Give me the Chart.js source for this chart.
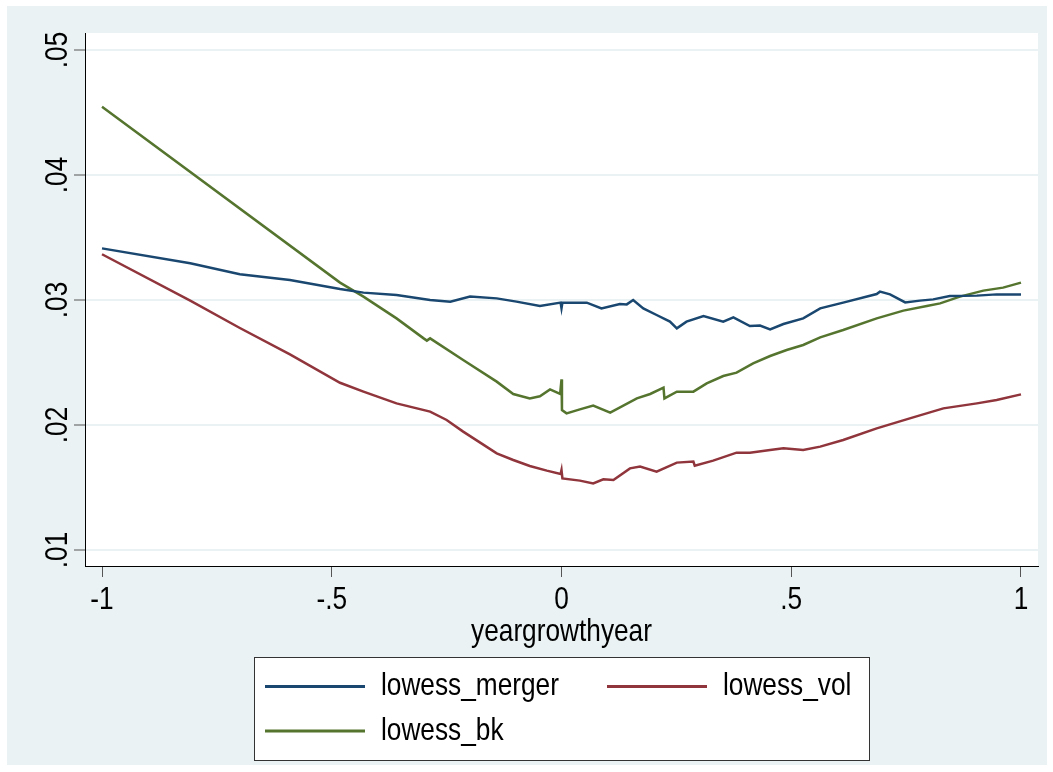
<!DOCTYPE html>
<html>
<head>
<meta charset="utf-8">
<script src="https://cdn.jsdelivr.net/npm/chart.js@4.4.1/dist/chart.umd.min.js"></script>
<style>
  html, body { margin: 0; padding: 0; background: #fff; }
  #wrap { position: absolute; left: 7px; top: 6px; width: 1040px; height: 759px; background: #eaf2f3; }
</style>
</head>
<body>
<div id="wrap"><canvas id="graph-box"></canvas></div>
<script>
// values
const xTicks = [-1, -0.5, 0, 0.5, 1];
const xTickLabels = ['-1', '-.5', '0', '.5', '1'];
const yTicks = [0.01, 0.02, 0.03, 0.04, 0.05];
const yTickLabels = ['.01', '.02', '.03', '.04', '.05'];
const xTitle = 'yeargrowthyear';

const seriesNames = ['lowess_merger', 'lowess_vol', 'lowess_bk'];

const mergerX = [-1, -0.808, -0.70, -0.591, -0.482, -0.431, -0.359, -0.286, -0.242, -0.199, -0.141, -0.098, -0.047, -0.002, 0.0, 0.002, 0.040, 0.055, 0.087, 0.127, 0.142, 0.156, 0.178, 0.207, 0.236, 0.251, 0.272, 0.309, 0.352, 0.374, 0.410, 0.432, 0.454, 0.483, 0.526, 0.563, 0.613, 0.686, 0.693, 0.715, 0.748, 0.780, 0.809, 0.845, 0.904, 0.947, 1.0];
const mergerY = [0.03413, 0.03294, 0.03206, 0.0316, 0.03088, 0.03059, 0.0304, 0.0300, 0.02987, 0.03027, 0.03013, 0.02987, 0.02952, 0.02979, 0.02934, 0.02979, 0.02979, 0.02979, 0.02933, 0.02968, 0.02965, 0.0300, 0.02933, 0.0288, 0.02827, 0.02773, 0.02827, 0.02872, 0.02827, 0.02861, 0.02792, 0.02795, 0.02765, 0.02808, 0.02853, 0.02933, 0.02979, 0.03048, 0.03067, 0.03045, 0.02981, 0.02995, 0.03005, 0.03032, 0.03035, 0.03045, 0.03045];

const volX = [-1, -0.808, -0.70, -0.591, -0.482, -0.431, -0.359, -0.286, -0.250, -0.214, -0.177, -0.141, -0.105, -0.069, -0.032, -0.002, 0.0, 0.002, 0.040, 0.069, 0.091, 0.113, 0.149, 0.171, 0.207, 0.251, 0.287, 0.290, 0.330, 0.381, 0.410, 0.454, 0.483, 0.526, 0.563, 0.613, 0.686, 0.758, 0.831, 0.904, 0.947, 1.0];
const volY = [0.03366, 0.02995, 0.02776, 0.02565, 0.02338, 0.02267, 0.02173, 0.02107, 0.0204, 0.01947, 0.01859, 0.01773, 0.0172, 0.01672, 0.01635, 0.01608, 0.0164, 0.01573, 0.01555, 0.01533, 0.01565, 0.0156, 0.01653, 0.01667, 0.01627, 0.01699, 0.01707, 0.01675, 0.01715, 0.01779, 0.01779, 0.018, 0.01813, 0.018, 0.01827, 0.0188, 0.01973, 0.02053, 0.02133, 0.02173, 0.022, 0.02245];

const bkX = [-1, -0.482, -0.431, -0.359, -0.300, -0.293, -0.286, -0.214, -0.141, -0.105, -0.069, -0.047, -0.025, -0.003, 0.0, 0.001, 0.011, 0.040, 0.069, 0.106, 0.164, 0.193, 0.222, 0.224, 0.251, 0.287, 0.316, 0.352, 0.381, 0.417, 0.454, 0.490, 0.526, 0.563, 0.613, 0.686, 0.744, 0.795, 0.824, 0.867, 0.918, 0.961, 1.0];
const bkY = [0.04546, 0.03139, 0.03027, 0.02853, 0.02693, 0.02675, 0.02693, 0.0252, 0.02347, 0.02248, 0.02213, 0.0223, 0.02285, 0.02248, 0.02365, 0.0212, 0.02093, 0.02125, 0.02155, 0.02099, 0.02213, 0.02248, 0.02299, 0.02213, 0.02267, 0.02267, 0.02333, 0.02392, 0.02419, 0.02493, 0.02552, 0.026, 0.0264, 0.02701, 0.0276, 0.02853, 0.02915, 0.02952, 0.02973, 0.03027, 0.03075, 0.03099, 0.03139];

const FONT = "'Liberation Sans', Arial, sans-serif";
const NARROW = 0.82; // squeeze the text so it looks like arial narrow
Chart.defaults.font.family = FONT;
Chart.defaults.color = '#000';

const toPoints = (xs, ys) => xs.map((x, i) => ({ x: x, y: ys[i] }));

function narrowText(ctx, text, x, y, rot) {
    ctx.save();
    ctx.translate(x, y);
    if (rot) ctx.rotate(rot);
    ctx.scale(NARROW, 1);
    ctx.fillText(text, 0, 0);
    ctx.restore();
}

// white plot region
const plotBg = {
    id: 'plotBg',
    beforeDraw(chart) {
        const a = chart.chartArea;
        chart.ctx.save();
        chart.ctx.fillStyle = '#fff';
        chart.ctx.fillRect(a.left, a.top, a.right - a.left, a.bottom - a.top);
        chart.ctx.restore();
    }
};

// tick labels and axis title, placed with the scales
const axisText = {
    id: 'axisText',
    afterDraw(chart) {
        const ctx = chart.ctx;
        const x = chart.scales.x;
        const y = chart.scales.y;
        ctx.save();
        ctx.font = '32px ' + FONT;
        ctx.fillStyle = '#000';
        ctx.textAlign = 'center';
        ctx.textBaseline = 'middle';
        yTicks.forEach((v, i) => {
            narrowText(ctx, yTickLabels[i], 51.5, y.getPixelForValue(v), -Math.PI / 2);
        });
        xTicks.forEach((v, i) => {
            narrowText(ctx, xTickLabels[i], x.getPixelForValue(v), 594);
        });
        narrowText(ctx, xTitle, (x.left + x.right) / 2, 626);
        ctx.restore();
    }
};

// boxed legend under the plot, two columns
const boxLegend = {
    id: 'boxLegend',
    afterDraw(chart) {
        const ctx = chart.ctx;
        const slots = [[258, 680.5], [600, 680.5], [258, 725]];
        ctx.save();
        ctx.fillStyle = '#fff';
        ctx.fillRect(247, 651, 615, 103);
        ctx.strokeStyle = '#333';
        ctx.lineWidth = 1;
        ctx.strokeRect(247.5, 651.5, 615, 103);
        ctx.font = '32px ' + FONT;
        ctx.textBaseline = 'middle';
        ctx.textAlign = 'left';
        chart.data.datasets.forEach((ds, i) => {
            const [sx, sy] = slots[i];
            ctx.strokeStyle = ds.borderColor;
            ctx.lineWidth = 3;
            ctx.beginPath();
            ctx.moveTo(sx, sy);
            ctx.lineTo(sx + 100, sy);
            ctx.stroke();
            ctx.fillStyle = '#000';
            narrowText(ctx, ds.label, sx + 116, sy);
        });
        ctx.restore();
    }
};

const ctx = document.getElementById('graph-box');

const myChart = new Chart(ctx, {
    type: 'line',
    data: {
        datasets: [
        {
            label: seriesNames[0],
            data: toPoints(mergerX, mergerY),
            borderColor: '#1a476f',
        },
        {
            label: seriesNames[1],
            data: toPoints(volX, volY),
            borderColor: '#90353b',
        },
        {
            label: seriesNames[2],
            data: toPoints(bkX, bkY),
            borderColor: '#55752f',
        }]
    },
    options: {
        responsive: true,
        maintainAspectRatio: false,
        animation: false,
        devicePixelRatio: 1,
        elements: {
            point: { radius: 0 },
            line: { borderWidth: 2.5, tension: 0 }
        },
        layout: { padding: { top: 27, right: 9, left: 0, bottom: 0 } },
        plugins: {
            legend: { display: false },
            tooltip: { enabled: false }
        },
        scales: {
            x: {
                type: 'linear',
                min: -1.037,
                max: 1.037,
                afterBuildTicks: (scale) => { scale.ticks = xTicks.map(v => ({ value: v })) },
                afterFit: (scale) => { scale.height = 199 },
                ticks: { display: false },
                grid: {
                    drawOnChartArea: false,
                    drawTicks: true,
                    tickLength: 11,
                    tickColor: '#555'
                },
                border: { display: true, color: '#000', width: 1 }
            },
            y: {
                type: 'linear',
                min: 0.00872,
                max: 0.05136,
                afterBuildTicks: (scale) => { scale.ticks = yTicks.map(v => ({ value: v })) },
                afterFit: (scale) => { scale.width = 78 },
                ticks: { display: false },
                grid: {
                    color: '#eaf2f3',
                    lineWidth: 2,
                    drawTicks: true,
                    tickLength: 11,
                    tickColor: '#555',
                    tickWidth: 1
                },
                border: { display: true, color: '#000', width: 1 }
            }
        }
    },
    plugins: [plotBg, axisText, boxLegend]
});
</script>
</body>
</html>
